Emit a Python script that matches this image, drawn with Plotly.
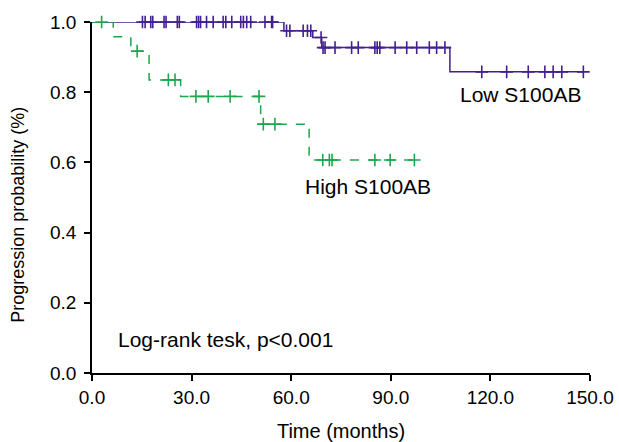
import numpy as np
import plotly.graph_objects as go

# Low S100AB group: step times and survival after each step
low_times = [0, 57.8, 66.5, 69.2, 107.8]
low_surv = [1.0, 0.975, 0.956, 0.927, 0.858]
low_end = 148.0
low_censor = [15.2, 16.0, 17.7, 18.3, 21.7, 22.3, 25.7, 26.3, 31.5, 32.1, 32.7, 34.5,
              36.5, 39.5, 40.3, 42.1, 44.8, 45.6, 46.6, 47.8, 52.1, 54.1, 54.4,
              58.6, 59.6, 63.6, 64.9, 65.9, 69.0, 69.6, 70.2, 73.2, 78.2, 80.2,
              85.2, 85.9, 86.7, 91.3, 94.8, 97.8, 101.6, 103.8, 106.3,
              117.4, 124.9, 131.4, 136.4, 138.9, 141.5, 148.0]

# High S100AB group
high_times = [0, 6.4, 11.7, 17.2, 26.7, 50.8, 65.4]
high_surv = [1.0, 0.958, 0.917, 0.835, 0.788, 0.709, 0.607]
high_end = 97.1
high_censor = [2.9, 13.6, 23.0, 25.0, 31.3, 35.0, 41.6, 50.3, 51.6, 55.1,
               69.5, 71.5, 72.3, 85.2, 89.8, 97.1]

x_ticks = [0, 30, 60, 90, 120, 150]
y_ticks = [0, 0.2, 0.4, 0.6, 0.8, 1.0]

PURPLE = "#43208f"
GREEN = "#1ea64d"


def step_value(times, surv, t):
    idx = np.searchsorted(times, t, side="right") - 1
    return surv[max(idx, 0)]


fig = go.Figure()

for name, times, surv, end, cens, color, dash in [
    ("Low", low_times, low_surv, low_end, low_censor, PURPLE, "solid"),
    ("High", high_times, high_surv, high_end, high_censor, GREEN, "dash"),
]:
    xs = list(times) + [end]
    ys = list(surv) + [surv[-1]]
    fig.add_trace(go.Scatter(x=xs, y=ys, mode="lines", line=dict(color=color, width=1.5, dash=dash, shape="hv"),
                             showlegend=False, cliponaxis=False, hoverinfo="skip"))
    cy = [step_value(times, surv, t) for t in cens]
    fig.add_trace(go.Scatter(x=cens, y=cy, mode="markers",
                             marker=dict(symbol="cross-thin", size=9, line=dict(color=color, width=1.6)),
                             showlegend=False, cliponaxis=False))

FONT = "Liberation Sans, Arial, sans-serif"
fig.add_annotation(x=129, y=0.793, text="Low S100AB", showarrow=False, xanchor="center", yanchor="middle",
                   font=dict(size=21, color="black", family=FONT))
fig.add_annotation(x=83, y=0.532, text="High S100AB", showarrow=False, xanchor="center", yanchor="middle",
                   font=dict(size=21, color="black", family=FONT))
fig.add_annotation(x=40.3, y=0.095, text="Log-rank tesk, p<0.001", showarrow=False, xanchor="center",
                   yanchor="middle", font=dict(size=21, color="black", family=FONT))
# y-axis title (placed as annotation; reference has it slightly below the axis centre)
fig.add_annotation(xref="paper", x=-0.149, yref="y", y=0.45, text="Progression probability (%)",
                   textangle=-90, showarrow=False, xanchor="center", yanchor="middle",
                   font=dict(size=18, color="black", family=FONT))

fig.update_layout(
    width=619, height=442,
    margin=dict(l=92, r=29, t=22, b=69),
    paper_bgcolor="white", plot_bgcolor="white",
    font=dict(family=FONT, size=19, color="black"),
    xaxis=dict(range=[0, 150], tickvals=x_ticks, tickformat=".1f", showline=True, linecolor="black",
               linewidth=1.5, ticks="outside", ticklen=6, tickwidth=1.5, tickcolor="black",
               showgrid=False, zeroline=False, automargin=False, ticklabeloverflow="allow",
               title=dict(text="Time (months)", standoff=20, font=dict(size=20)),
               tickfont=dict(size=19)),
    yaxis=dict(range=[0, 1.0], tickvals=y_ticks, tickformat=".1f", showline=True, linecolor="black",
               linewidth=1.5, ticks="outside", ticklen=6, tickwidth=1.5, tickcolor="black",
               showgrid=False, zeroline=False, automargin=False, ticklabelstandoff=4,
               ticklabeloverflow="allow", tickfont=dict(size=19)),
)

fig.write_html("out.html", config={"displayModeBar": False},
               post_script="document.body.style.margin='0';document.body.style.overflow='hidden';")
